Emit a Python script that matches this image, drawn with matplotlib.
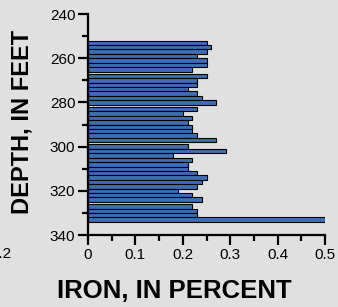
import matplotlib
matplotlib.use("Agg")
import matplotlib.pyplot as plt
import numpy as np
from matplotlib.ticker import MultipleLocator

# sample intervals (top depth, feet) and iron content (percent)
depth_top = [252, 254, 256, 258, 260, 262, 264,
             267, 269, 271, 273, 275, 277, 279,
             282, 284, 286, 288, 290, 292, 294, 296,
             299, 301, 303, 305, 307, 309, 311, 313, 315, 317, 319, 321, 323,
             326, 328, 330, 332]
iron = [0.25, 0.26, 0.25, 0.23, 0.25, 0.25, 0.22,
        0.25, 0.23, 0.23, 0.21, 0.23, 0.24, 0.27,
        0.23, 0.20, 0.22, 0.21, 0.22, 0.22, 0.23, 0.27,
        0.21, 0.29, 0.18, 0.22, 0.21, 0.21, 0.23, 0.25, 0.24, 0.23, 0.19, 0.22, 0.24,
        0.22, 0.23, 0.23, 0.50]
interval = 2
xticks = [0, 0.1, 0.2, 0.3, 0.4, 0.5]
xticklabels = ["0", "0.1", "0.2", "0.3", "0.4", "0.5"]

bg = "#e0e0e0"
plt.rcParams['font.family'] = ['Liberation Sans', 'DejaVu Sans']

fig = plt.figure(figsize=(3.38, 3.07), dpi=100, facecolor=bg)
ax = fig.add_axes([0.260, 0.2345, 0.702, 0.7195], facecolor=bg)

ax.barh(np.array(depth_top) + interval / 2, iron, height=interval,
        color="#3d6db4", edgecolor="black", linewidth=0.8)

ax.set_xlim(0, 0.5)
ax.set_ylim(340, 240)
ax.set_xticks(xticks)
ax.set_xticklabels(xticklabels)
ax.xaxis.set_minor_locator(MultipleLocator(0.05))
ax.yaxis.set_major_locator(MultipleLocator(20))
ax.yaxis.set_minor_locator(MultipleLocator(10))

for s in ["top", "right"]:
    ax.spines[s].set_visible(False)
for s in ["left", "bottom"]:
    ax.spines[s].set_linewidth(1.6)

ax.tick_params(which="major", length=7, width=1.6, labelsize=11, pad=2)
ax.tick_params(which="minor", length=4, width=1.6)

fig.text(0.064, 1 - 121.5 / 307, "DEPTH, IN FEET", rotation=90, ha="center", va="center",
         fontsize=17, fontweight="bold")
fig.text(174.5 / 338, 1 - 290.5 / 307, "IRON, IN PERCENT", ha="center", va="center",
         fontsize=18.5, fontweight="bold")
fig.text(0.034, 1 - 254.5 / 307, "0.2", ha="right", va="center", fontsize=11)

fig.savefig("out.png", dpi=100, facecolor=bg)
